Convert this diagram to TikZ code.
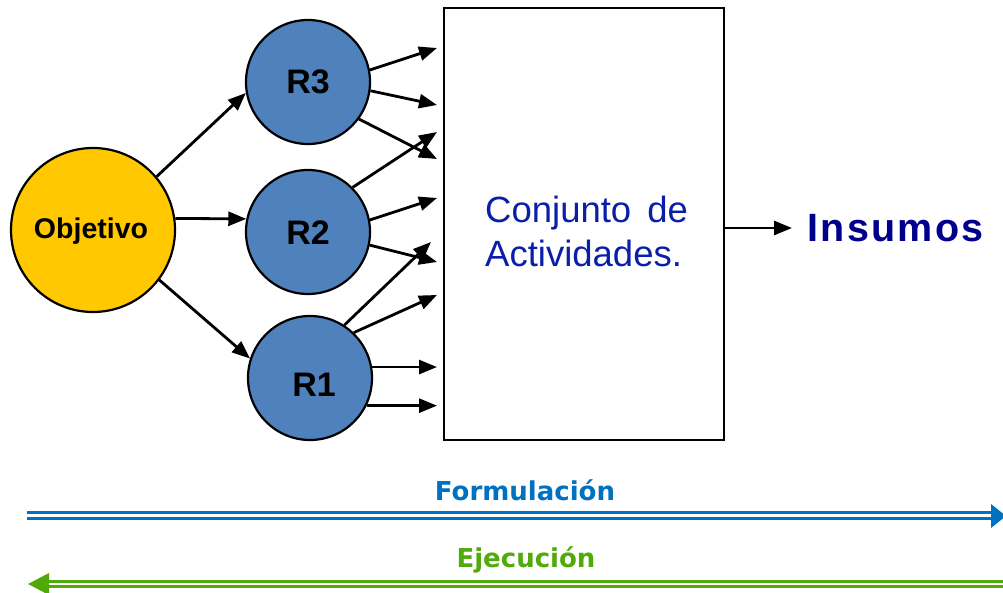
\documentclass[tikz,border=0pt]{standalone}
\usepackage{fontspec}
\setmainfont{Liberation Sans}
\newfontfamily\djv{DejaVu Sans}
\newfontfamily\insfont[LetterSpace=6]{Liberation Sans}
\usetikzlibrary{arrows.meta}
\definecolor{objyellow}{RGB}{255,200,0}
\definecolor{rblue}{RGB}{79,129,189}
\definecolor{conjblue}{RGB}{10,30,170}
\definecolor{insnavy}{RGB}{0,0,140}
\definecolor{formblue}{RGB}{0,112,192}
\definecolor{ejecgreen}{RGB}{80,170,10}
\tikzset{
  circ/.style={circle, draw=black, line width=2.2pt, inner sep=0pt},
  rnode/.style={circ, fill=rblue, minimum size=124pt},
  rlabel/.style={inner sep=0pt, anchor=base, font=\fontsize{34}{36}\selectfont\bfseries},
  arr/.style={line width=2.8pt, -{Triangle[length=18pt,width=14pt]}},
  txt/.style={inner sep=0pt}
}
\begin{document}
\begin{tikzpicture}[x=1pt,y=-1pt]
\useasboundingbox (0,0) rectangle (1003,593);
% nodes
\node[circ, fill=objyellow, minimum size=164pt] (obj) at (93,230) {};
\node[txt, anchor=base, font=\fontsize{28.5}{30}\selectfont\bfseries] (objt) at (91,239) {Objetivo};
\node[rnode] (R3) at (308,82) {};
\node[rlabel] (R3t) at (308,94) {R3};
\node[rnode] (R2) at (308,232) {};
\node[rlabel] (R2t) at (308,245) {R2};
\node[rnode] (R1) at (310,378) {};
\node[rlabel] (R1t) at (314,396) {R1};
\node[draw=black, line width=2.2pt, minimum width=280pt, minimum height=432pt, inner sep=0pt] (box) at (584,224) {};
\node[txt, anchor=base west, text=conjblue, font=\fontsize{36.5}{40}\selectfont] (c1) at (485,223) {Conjunto\hspace{16pt}de};
\node[txt, anchor=base west, text=conjblue, font=\fontsize{36.5}{40}\selectfont] (c2) at (485,267) {Actividades.};
\node[anchor=base west, inner ysep=0pt, inner xsep=0pt, text=insnavy, font=\insfont\fontsize{39.5}{40}\selectfont\bfseries] (ins) at (807,242) {Insumos};
\coordinate (insin) at (792,228);
% objective arrows
\draw[arr] (obj.40) -- (R3.190);
\draw[arr] (obj.8) -- (R2.168);
\draw[arr] (obj.-37) -- (R1.162);
% end coordinates near box
\coordinate (e1) at (437,48);
\coordinate (e2) at (437,105);
\coordinate (e3) at (437,159);
\coordinate (e4) at (437,132);
\coordinate (e5) at (437,198);
\coordinate (e6) at (437,262);
\coordinate (e7) at (431,242);
\coordinate (e8) at (437,295);
\coordinate (e9) at (437,367);
\coordinate (e10) at (437,405);
\draw[arr] (R3.11) -- (e1);
\draw[arr] (R3.-8) -- (e2);
\draw[arr] (R3.-36) -- (e3);
\draw[arr] (R2.45) -- (e4);
\draw[arr] (R2.11) -- (e5);
\draw[arr] (R2.-12) -- (e6);
\draw[arr] (R1.57) -- (e7);
\draw[arr] (R1.46) -- (e8);
\draw[arr] (R1.10) -- (R1.10 -| e9);
\draw[arr] (R1.-26) -- (R1.-26 -| e10);
\draw[arr] (box.east |- insin) -- (insin);
% bottom
\node[txt, anchor=base, text=formblue, font=\djv\fontsize{26}{28}\selectfont\bfseries] (form) at (525,500) {Formulación};
\node[txt, anchor=base, text=ejecgreen, font=\djv\fontsize{26}{28}\selectfont\bfseries] (ejec) at (526,567) {Ejecución};
\coordinate (fa) at (27,515.5);
\coordinate (fb) at (992,515.5);
\draw[formblue, line width=3pt] ([yshift=-2.7pt]fa) -- ([yshift=-2.7pt]fb);
\draw[formblue, line width=3pt] ([yshift=2.7pt]fa) -- ([yshift=2.7pt]fb);
\fill[formblue] (991,504) -- (1006,516) -- (991,528) -- cycle;
\coordinate (ga) at (48,584);
\coordinate (gb) at (1003,584);
\draw[ejecgreen, line width=3pt] ([yshift=-2.4pt]ga) -- ([yshift=-2.4pt]gb);
\draw[ejecgreen, line width=3pt] ([yshift=2.4pt]ga) -- ([yshift=2.4pt]gb);
\fill[ejecgreen] (49,573) -- (28,584) -- (49,595) -- cycle;
\end{tikzpicture}
\end{document}
